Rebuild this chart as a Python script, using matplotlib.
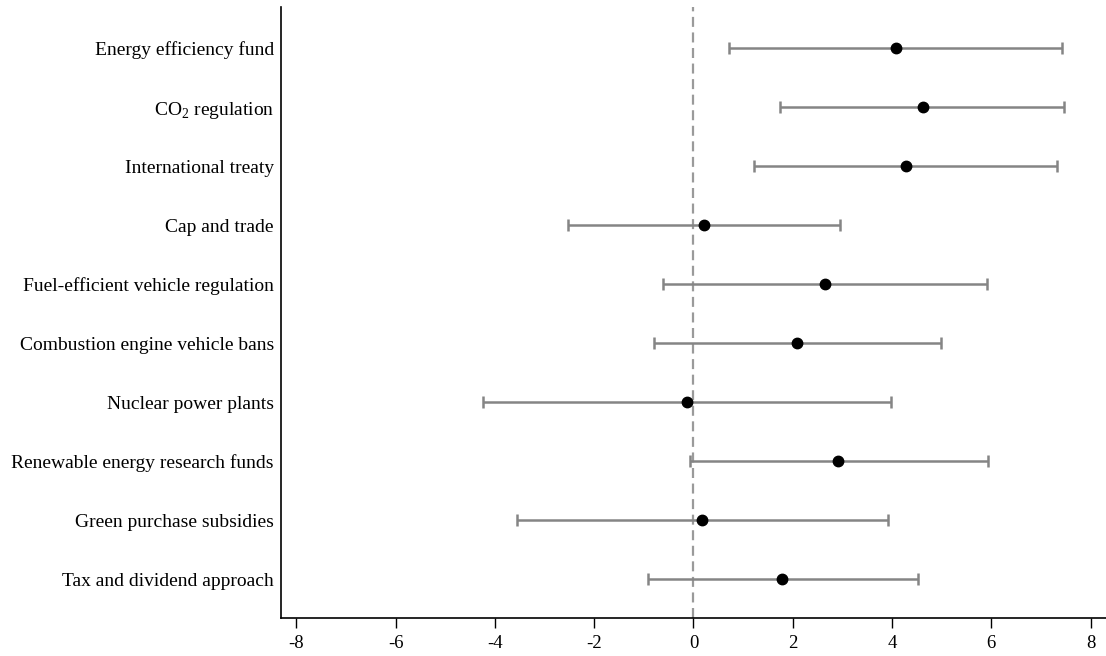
import numpy as np
import matplotlib
matplotlib.use("Agg")
import matplotlib.pyplot as plt

plt.rcParams['font.family'] = ['Liberation Serif', 'DejaVu Serif']
plt.rcParams['mathtext.fontset'] = 'custom'
plt.rcParams['mathtext.rm'] = 'Liberation Serif'
plt.rcParams['axes.unicode_minus'] = False

# policies, top to bottom
policies = [
    "Energy efficiency fund",
    "CO$_\\mathregular{2}$ regulation",
    "International treaty",
    "Cap and trade",
    "Fuel-efficient vehicle regulation",
    "Combustion engine vehicle bans",
    "Nuclear power plants",
    "Renewable energy research funds",
    "Green purchase subsidies",
    "Tax and dividend approach",
]
estimate = [4.08, 4.63, 4.28, 0.21, 2.65, 2.08, -0.13, 2.92, 0.18, 1.79]
ci_low = [0.71, 1.75, 1.22, -2.53, -0.61, -0.80, -4.23, -0.07, -3.55, -0.92]
ci_high = [7.43, 7.47, 7.32, 2.96, 5.91, 4.98, 3.97, 5.93, 3.92, 4.52]
xticks = [-8, -6, -4, -2, 0, 2, 4, 6, 8]

est = np.array(estimate)
err = np.vstack([est - np.array(ci_low), np.array(ci_high) - est])
ypos = np.arange(len(policies))

fig = plt.figure(figsize=(11.06, 6.56), dpi=100)
ax = fig.add_axes([0.254, 0.058, 0.746, 0.931])

ax.axvline(0, color='#9a9a9a', linestyle=(0, (4.5, 2.5)), linewidth=1.6, zorder=1)
ax.errorbar(est, ypos, xerr=err, fmt='none', ecolor='#858585', elinewidth=1.8,
            capsize=4.5, capthick=1.8, zorder=2)
ax.plot(est, ypos, 'o', color='black', markersize=7.5, zorder=3)

ax.set_yticks(ypos)
ax.set_yticklabels(policies, fontsize=14)
ax.tick_params(axis='y', length=0, pad=5)
ax.set_xticks(xticks)
ax.set_xticklabels([str(t) for t in xticks], fontsize=13.5)
ax.tick_params(axis='x', length=7, width=1, pad=5)

ax.set_xlim(-8.31, 8.31)
ax.set_ylim(len(policies) - 1 + 0.66, -0.695)

ax.spines['top'].set_visible(False)
ax.spines['right'].set_visible(False)
for s in ['left', 'bottom']:
    ax.spines[s].set_linewidth(1.2)

fig.savefig('out.png', dpi=100)
